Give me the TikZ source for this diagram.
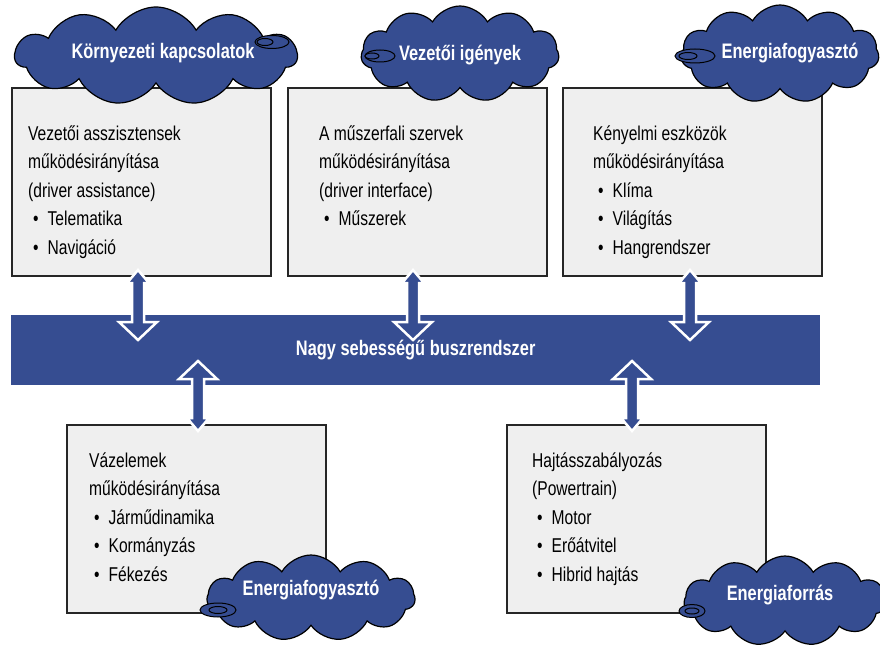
\documentclass[tikz,border=0pt]{standalone}
\usepackage{fontspec}
\setmainfont{Liberation Sans}[FakeStretch=0.78]
\usetikzlibrary{shapes.symbols,shapes.geometric,calc}
\definecolor{busblue}{RGB}{54,77,145}
\definecolor{boxgray}{RGB}{239,239,239}
\newcommand{\itm}[1]{\hspace*{5pt}\textbullet\hspace{9pt}#1}

\begin{document}
\begin{tikzpicture}[
x=1pt, y=-1pt,
box/.style = {draw=black!85, fill=boxgray, line width=1.6pt, anchor=north west,
  minimum width=259pt, minimum height=188pt, inner sep=0pt},
boxtext/.style = {anchor=north west, align=left, inner sep=0pt,
  font=\fontsize{20}{28.5}\selectfont},
cloudbox/.style = {cloud, cloud puffs=11, cloud puff arc=120, cloud ignores aspect,
  draw=black, line width=1.2pt, fill=busblue, inner sep=0pt},
cloudlabel/.style = {text=white, inner sep=0pt, font=\bfseries\fontsize{21}{24}\selectfont},
tail/.style = {ellipse, draw=black, line width=1pt, fill=busblue, inner sep=0pt},
pics/busarrow/.style = {code={
  \filldraw[fill=busblue, draw=white, line width=2.5pt, line join=miter]
    (0,0) -- (11,13) -- (6,13) -- (6,52) -- (19,52) -- (0,70)
    -- (-19,52) -- (-6,52) -- (-6,13) -- (-11,13) -- cycle;
}},
]
\useasboundingbox (0,0) rectangle (880,647);

% control units
\node[box] (b1) at (11,87) {};
\node[box] (b2) at (287,87) {};
\node[box] (b3) at (562,87) {};
\node[box] (b4) at (66,424) {};
\node[box] (b5) at (506,424) {};

\node[boxtext] (t1) at ($(b1.north west)+(17,33)$)
  {\strut Vezetői asszisztensek\\működésirányítása\\(driver assistance)\\\itm{Telematika}\\\itm{Navigáció}};
\node[boxtext] (t2) at ($(b2.north west)+(32,33)$)
  {\strut A műszerfali szervek\\működésirányítása\\(driver interface)\\\itm{Műszerek}};
\node[boxtext] (t3) at ($(b3.north west)+(31,33)$)
  {\strut Kényelmi eszközök\\működésirányítása\\\itm{Klíma}\\\itm{Világítás}\\\itm{Hangrendszer}};
\node[boxtext] (t4) at ($(b4.north west)+(23,23)$)
  {\strut Vázelemek\\működésirányítása\\\itm{Járműdinamika}\\\itm{Kormányzás}\\\itm{Fékezés}};
\node[boxtext] (t5) at ($(b5.north west)+(26,23)$)
  {\strut Hajtásszabályozás\\(Powertrain)\\\itm{Motor}\\\itm{Erőátvitel}\\\itm{Hibrid hajtás}};

% bus
\node[fill=busblue, anchor=north west, minimum width=809pt, minimum height=70pt,
  inner sep=0pt, text=white, font=\bfseries\fontsize{21}{24}\selectfont]
  (bus) at (11,315) {Nagy sebességű buszrendszer};

% links to the bus
\pic (a1) at (138,270) {busarrow};
\pic (a2) at (413,270) {busarrow};
\pic (a3) at (690,270) {busarrow};
\pic[yscale=-1] (a4) at (198,431) {busarrow};
\pic[yscale=-1] (a5) at (632,431) {busarrow};

% clouds
\node[cloudbox, minimum width=282pt, minimum height=98pt] (c1) at (156,56) {};
\node[tail, minimum width=34pt, minimum height=13pt] (c1t) at (272,42) {};
\node[tail, minimum width=16pt, minimum height=7pt] (c1s) at (265,42) {};
\node[cloudlabel] (l1) at ($(c1)+(7,-3)$) {Környezeti kapcsolatok};

\node[cloudbox, minimum width=198pt, minimum height=96pt] (c2) at (460,54) {};
\node[tail, minimum width=30pt, minimum height=12pt] (c2t) at (380,56) {};
\node[tail, minimum width=14pt, minimum height=6pt] (c2s) at (372,56) {};
\node[cloudlabel] (l2) at ($(c2)+(0,1)$) {Vezetői igények};

\node[cloudbox, minimum width=198pt, minimum height=98pt] (c3) at (780,54) {};
\node[tail, minimum width=40pt, minimum height=14pt] (c3t) at (695,56) {};
\node[tail, minimum width=18pt, minimum height=7pt] (c3s) at (688,56) {};
\node[cloudlabel] (l3) at ($(c3)+(10,-1)$) {Energiafogyasztó};

\node[cloudbox, minimum width=208pt, minimum height=86pt] (c4) at (311,598) {};
\node[tail, minimum width=36pt, minimum height=14pt] (c4t) at (218,610) {};
\node[tail, minimum width=18pt, minimum height=7pt] (c4s) at (218,610) {};
\node[cloudlabel] (l4) at ($(c4)+(0,-8)$) {Energiafogyasztó};

\node[cloudbox, minimum width=202pt, minimum height=90pt] (c5) at (785,601) {};
\node[tail, minimum width=26pt, minimum height=13pt] (c5t) at (692,611) {};
\node[tail, minimum width=14pt, minimum height=6pt] (c5s) at (692,611) {};
\node[cloudlabel] (l5) at ($(c5)+(-5,-6)$) {Energiaforrás};
\end{tikzpicture}
\end{document}
